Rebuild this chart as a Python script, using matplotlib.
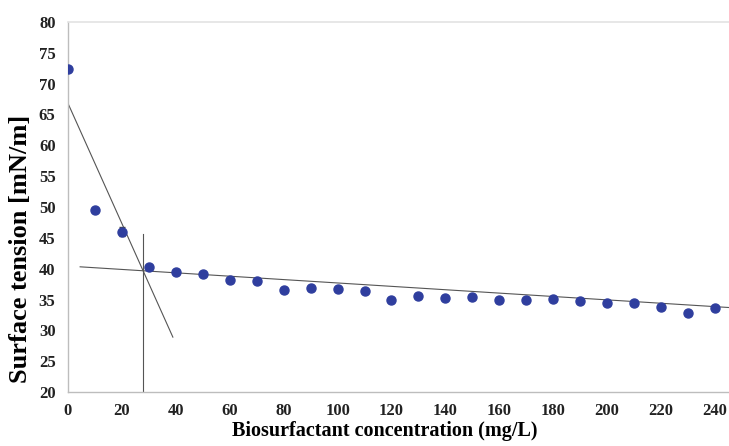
import matplotlib.pyplot as plt

# surface tension vs biosurfactant concentration
conc = [0, 10, 20, 30, 40, 50, 60, 70, 80, 90, 100, 110, 120, 130, 140, 150,
        160, 170, 180, 190, 200, 210, 220, 230, 240]
tension = [72.3, 49.5, 46.0, 40.2, 39.5, 39.2, 38.2, 38.0, 36.6, 36.9, 36.7,
           36.3, 34.9, 35.5, 35.2, 35.4, 34.9, 34.9, 35.0, 34.7, 34.4, 34.4,
           33.8, 32.8, 33.7]
tension_err = [0.0, 0.3, 0.7, 0.2, 0.2, 0.2, 0.1, 0.1, 0.1, 0.1, 0.1, 0.1, 0.1,
               0.1, 0.1, 0.1, 0.1, 0.1, 0.1, 0.1, 0.1, 0.1, 0.1, 0.1, 0.1]

# fitted lines used to find the CMC
steep_x = [0, 38.9]
steep_y = [66.8, 28.9]
flat_x = [4.5, 245.2]
flat_y = [40.3, 33.7]
cmc_x = [28, 28]
cmc_y = [20, 45.7]

plt.rcParams["font.family"] = ["Liberation Serif", "DejaVu Serif"]
plt.rcParams["font.weight"] = "bold"

W, H = 729, 446
fig = plt.figure(figsize=(W / 100, H / 100), dpi=100)
ax = fig.add_axes([68 / W, 1 - 392 / H, 1 - 68 / W, (392 - 22) / H])

ax.plot(steep_x, steep_y, color="#555555", lw=0.8)
ax.plot(flat_x, flat_y, color="#555555", lw=0.8)
ax.plot(cmc_x, cmc_y, color="#555555", lw=0.8)
ax.errorbar(conc, tension, yerr=tension_err, fmt="o", color="#2f3e9e",
            ms=6.5, ecolor="#444444", elinewidth=0.8, capsize=2, zorder=3)

ax.set_xlim(0, 245.2)
ax.set_ylim(20, 80)
ax.set_xticks(range(0, 241, 20))
ax.set_yticks(range(20, 81, 5))
ax.tick_params(axis="x", length=0, labelsize=12, pad=8)
ax.tick_params(axis="y", length=0, labelsize=12, pad=9)
for lab in ax.get_xticklabels() + ax.get_yticklabels():
    lab.set_fontweight("bold")
    lab.set_color("#222222")

ax.spines["right"].set_visible(False)
ax.spines["top"].set_color("#e3e3e3")
ax.spines["top"].set_linewidth(1.2)
ax.spines["left"].set_color("#bdbdbd")
ax.spines["bottom"].set_color("#bdbdbd")
ax.spines["left"].set_linewidth(1.0)
ax.spines["bottom"].set_linewidth(1.0)

# axis titles placed as in the reference
fig.text(384.5 / W, 1 - 431 / H, "Biosurfactant concentration (mg/L)",
         fontsize=14.5, fontweight="bold", ha="center", va="center")
fig.text(21 / W, 1 - 249 / H, "Surface tension [mN/m]", fontsize=19,
         fontweight="bold", ha="center", va="center", rotation=90)

fig.savefig("out.png", dpi=100)
